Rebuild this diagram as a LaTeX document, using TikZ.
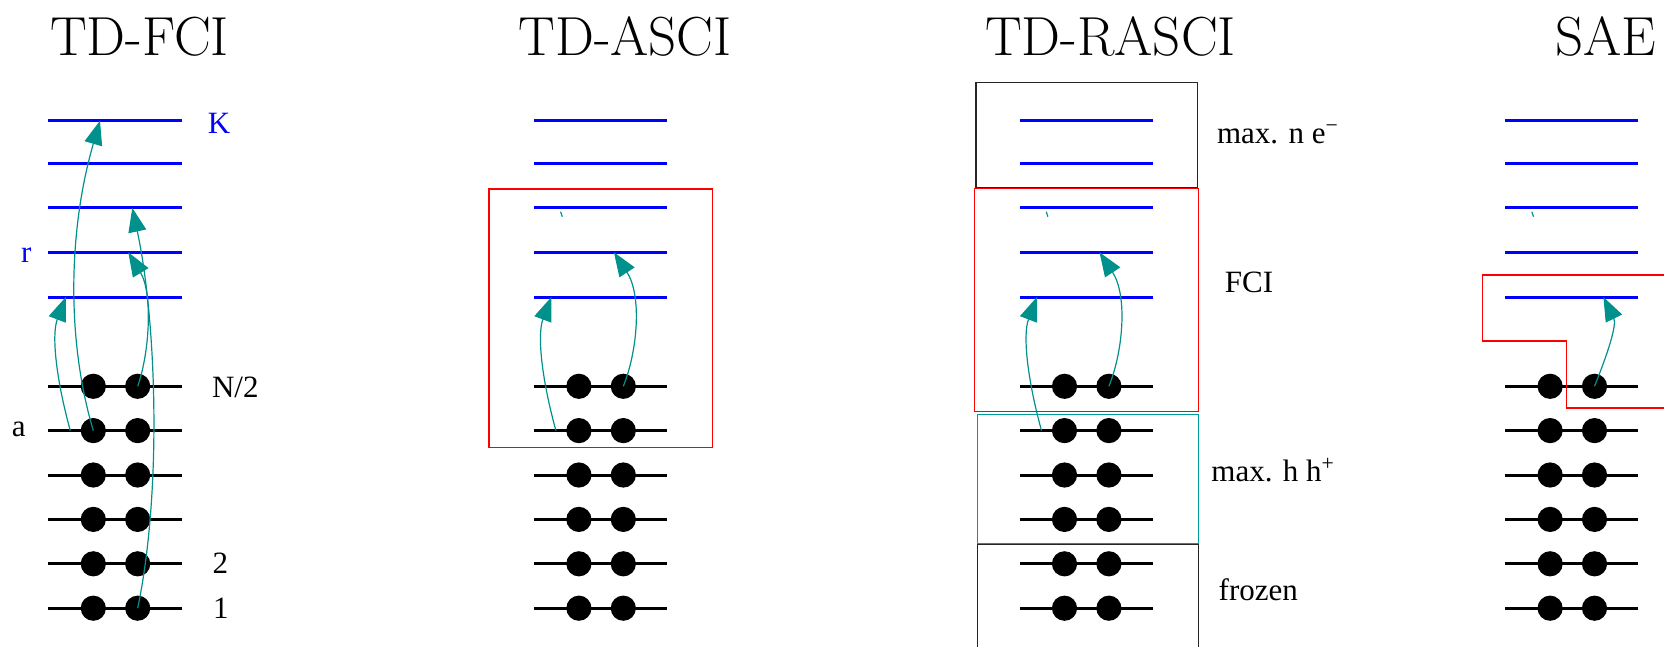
\documentclass[tikz,border=0pt]{standalone}
\usepackage{fontspec}
\usepackage{tikz}
\usetikzlibrary{arrows.meta}
\newfontfamily\lblfont{Liberation Serif}
\definecolor{exctl}{RGB}{0,145,140}
\definecolor{rasteal}{RGB}{0,155,155}

\begin{document}
\begin{tikzpicture}[x=0.5pt, y=-0.5pt,
  virt/.style={draw=blue, line width=1.5pt},
  occ/.style={draw=black, line width=1.5pt},
  elec/.style={circle, fill=black, minimum size=12.6pt, inner sep=0pt},
  exc/.style={-{Triangle[length=12pt, width=9pt]}, draw=exctl, line width=0.6pt},
  space/.style={line width=0.75pt},
  title/.style={font=\fontsize{27.5}{32}\selectfont, anchor=base, inner sep=0pt},
  lab/.style={font=\lblfont\fontsize{15.5}{18}\selectfont, anchor=base, inner sep=0pt}
]
\useasboundingbox (0,0) rectangle (1664,647);

\node[title] (t-fci) at (139.5,55.5) {TD-FCI};
\node[title] (t-asci) at (625,55.5) {TD-ASCI};
\node[title] (t-rasci) at (1110.5,55.5) {TD-RASCI};
\node[title] (t-sae) at (1605.5,55.5) {SAE};

\foreach \c in {1,...,4} {
  \pgfmathsetmacro{\xo}{48.3+485.6*(\c-1)}
  \foreach \k/\y in {0/120.7,1/163.8,2/207.9,3/252.3,4/297.0}
    \draw[virt] (\xo,\y) -- (\xo+133.3,\y);
  \foreach \k/\y in {6/386.3,7/430.6,8/475.0,9/519.4,10/563.8,11/608.2} {
    \draw[occ] (\xo,\y) -- (\xo+133.3,\y);
    \node[elec] (e\c-\k-1) at (\xo+45,\y) {};
    \node[elec] (e\c-\k-2) at (\xo+89.4,\y) {};
  }
}

% excitations
\coordinate (fci-a) at (70.3,430.6);
\coordinate (fci-4) at (65.8,297.0);
\coordinate (fci-K) at (100,120.7);
\coordinate (fci-r) at (128.3,252.3);
\coordinate (fci-2) at (132.3,207.9);
\draw[exc] (fci-a) .. controls (56.3,380) and (51.3,335) .. (fci-4);
\draw[exc] (e1-7-1.center) .. controls (66.3,340) and (68.3,230) .. (fci-K);
\draw[exc] (e1-6-2.center) .. controls (150.3,350) and (152.3,292) .. (fci-r);
\draw[exc] (e1-11-2.center) .. controls (162.3,490) and (156.3,320) .. (fci-2);

\coordinate (asci-a) at (555.9,430.6);
\coordinate (asci-4) at (551.4,297.0);
\coordinate (asci-3) at (613.9,252.3);
\coordinate (asci-t1) at (560.6,211.7);
\coordinate (asci-t2) at (562.3,216.7);
\draw[exc] (asci-a) .. controls (541.9,380) and (536.9,335) .. (asci-4);
\draw[exc] (e2-6-2.center) .. controls (637.9,350) and (641.9,295) .. (asci-3);
\draw[exctl, line width=0.6pt] (asci-t1) -- (asci-t2);

\coordinate (ras-a) at (1041.5,430.6);
\coordinate (ras-4) at (1037,297.0);
\coordinate (ras-3) at (1099.5,252.3);
\coordinate (ras-t1) at (1046.2,211.7);
\coordinate (ras-t2) at (1047.9,216.7);
\draw[exc] (ras-a) .. controls (1027.5,380) and (1022.5,335) .. (ras-4);
\draw[exc] (e3-6-2.center) .. controls (1123.5,350) and (1127.5,295) .. (ras-3);
\draw[exctl, line width=0.6pt] (ras-t1) -- (ras-t2);

\coordinate (sae-4) at (1603.4,297.0);
\coordinate (sae-t1) at (1531.8,211.7);
\coordinate (sae-t2) at (1533.5,216.7);
\draw[exc] (e4-6-2.center) .. controls (1607.1,355) and (1617.1,325) .. (sae-4);
\draw[exctl, line width=0.6pt] (sae-t1) -- (sae-t2);

% active spaces
\draw[space, red] (489,189) rectangle (712.7,447.7);
\draw[space, black!85] (976,82.3) rectangle (1197.3,187.3);
\draw[space, red] (974.3,188.7) rectangle (1198.3,411.3);
\draw[space, rasteal] (977.3,414.3) rectangle (1198.3,543.3);
\draw[space, black!85] (977.3,544.7) rectangle (1198.3,690);
\draw[space, red] (1700,275) -- (1482.3,275) -- (1482.3,341) -- (1566.7,341) -- (1566.7,408) -- (1700,408);

\node[lab, text=blue] (l-K) at (219,133.3) {K};
\node[lab, text=blue] (l-r) at (26.3,262.7) {r};
\node[lab] (l-N2) at (235.3,397) {N/2};
\node[lab] (l-a) at (18.8,436) {a};
\node[lab] (l-2) at (220.3,573.3) {2};
\node[lab] (l-1) at (220.8,618) {1};

\node[lab, anchor=base west] (l-ne) at (1216.7,143) {max. n e\textsuperscript{−}};
\node[lab] (l-fci) at (1249,292) {FCI};
\node[lab, anchor=base west] (l-hh) at (1211,481) {max. h h\textsuperscript{+}};
\node[lab, anchor=base west] (l-frozen) at (1218.3,600) {frozen};

\end{tikzpicture}
\end{document}
